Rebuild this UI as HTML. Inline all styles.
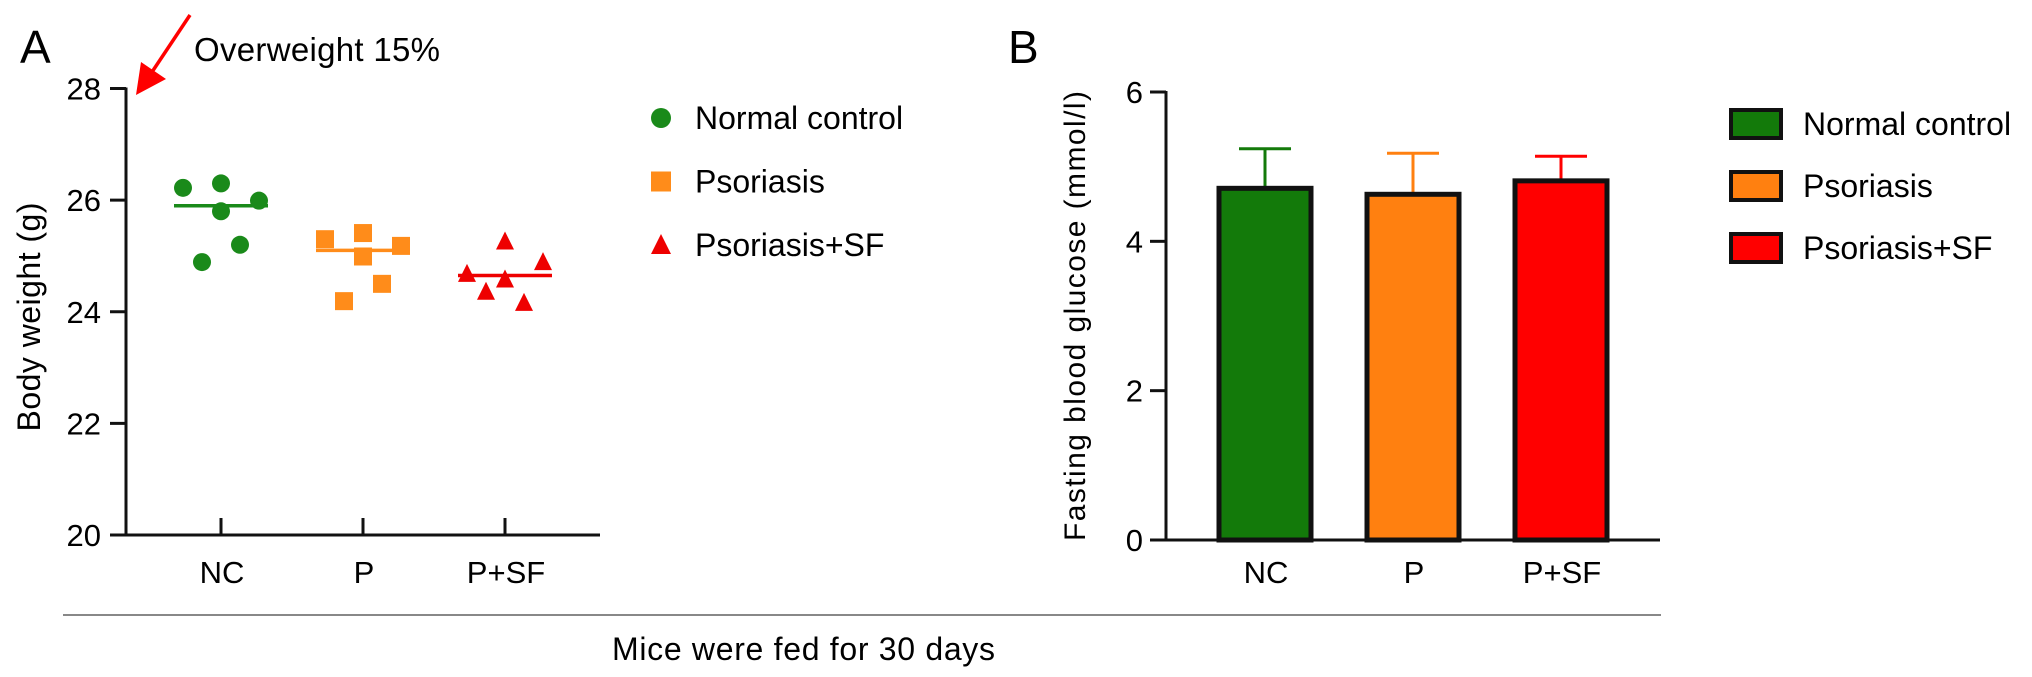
<!DOCTYPE html>
<html><head><meta charset="utf-8"><style>
body{margin:0;background:#fff;}
svg{display:block;font-family:"Liberation Sans",sans-serif;}
</style></head><body>
<svg id="fig" width="2032" height="677" viewBox="0 0 2032 677">
<text x="20" y="63" font-size="46">A</text>
<text x="194" y="61" font-size="33" textLength="246">Overweight 15%</text>
<g>
<line x1="190" y1="15" x2="152" y2="72" stroke="#f00" stroke-width="3.5"/>
<polygon points="136,95 141,62 166,79" fill="#f00"/>
</g>
<g id="pa"></g>
<g id="pb"></g>
<text x="1008" y="63" font-size="46">B</text>
<line x1="63" y1="615" x2="1661" y2="615" stroke="#888" stroke-width="2"/>
<text x="612" y="660" font-size="32" textLength="383">Mice were fed for 30 days</text>
</svg>
<script>
const NS="http://www.w3.org/2000/svg";
function mk(p,t,a,txt){const e=document.createElementNS(NS,t);for(const k in a)e.setAttribute(k,a[k]);if(txt!==undefined)e.textContent=txt;p.appendChild(e);return e;}

// Panel A data
const catsA=["NC","P","P+SF"];
const ncValues=[26.22,26.30,25.99,25.80,25.20,24.89];
const pValues=[25.30,25.41,25.18,24.99,24.50,24.19];
const psfValues=[24.68,25.26,24.89,24.58,24.16,24.36];
const jitter=[-2,0,2,0,1,-1];
const meansA=[25.9,25.1,24.65];
const ticksA=[20,22,24,26,28];
const legendA=["Normal control","Psoriasis","Psoriasis+SF"];
// Panel B data
const catsB=["NC","P","P+SF"];
const barValues=[4.71,4.63,4.81];
const errTops=[5.24,5.18,5.14];
const ticksB=[0,2,4,6];
const legendB=["Normal control","Psoriasis","Psoriasis+SF"];

const colA=["#1a8a1a","#ff8c1a","#ee0000"];
const colB=["#137a0a","#ff8010","#ff0000"];

// Panel A
const pa=document.getElementById('pa');
const yA=v=>535-(v-20)/8*446.5;
const xA=i=>221+i*142;
let e;
e=mk(pa,'line',{x1:126,y1:yA(28)-1,x2:126,y2:535,stroke:'#111','stroke-width':3});

e=mk(pa,'line',{x1:110,y1:535,x2:600,y2:535,stroke:'#111','stroke-width':3});

ticksA.forEach(t=>{
 e=mk(pa,'line',{x1:110,y1:yA(t),x2:126,y2:yA(t),stroke:'#111','stroke-width':3});
 
 e=mk(pa,'text',{x:101,y:yA(t)+11,'font-size':31,'text-anchor':'end'},String(t));
 
});
catsA.forEach((c,i)=>{
 e=mk(pa,'line',{x1:xA(i),y1:518,x2:xA(i),y2:535,stroke:'#111','stroke-width':3});
 
 e=mk(pa,'text',{x:xA(i)+1,y:583,'font-size':31,'text-anchor':'middle'},c);
 
});
e=mk(pa,'text',{transform:'translate(40,317) rotate(-90)','font-size':32,'text-anchor':'middle',textLength:229},'Body weight (g)');

function marker(g,kind,x,y,c,s){
 if(kind===0)return mk(g,'circle',{cx:x,cy:y,r:s,fill:c});
 if(kind===1)return mk(g,'rect',{x:x-s,y:y-s,width:2*s,height:2*s,fill:c});
 return mk(g,'polygon',{points:`${x},${y-s*1.1} ${x+s},${y+s*0.9} ${x-s},${y+s*0.9}`,fill:c});
}
[ncValues,pValues,psfValues].forEach((arr,g)=>{
 arr.forEach((v,j)=>{
  e=marker(pa,g,xA(g)+jitter[j]*19,yA(v),colA[g],9);
  
 });
 e=mk(pa,'line',{x1:xA(g)-47,x2:xA(g)+47,y1:yA(meansA[g]),y2:yA(meansA[g]),stroke:colA[g],'stroke-width':3.5});
 
});
legendA.forEach((l,i)=>{
 const y=118+i*63.5;
 e=marker(pa,i,661,y,colA[i],10);
 
 e=mk(pa,'text',{x:695,y:y+11,'font-size':32},l);
 
});

// Panel B
const pb=document.getElementById('pb');
const yB=v=>540-v/6*448;
const xB=i=>1265+i*148;
e=mk(pb,'line',{x1:1166,y1:yB(6)-1,x2:1166,y2:540,stroke:'#111','stroke-width':3});

e=mk(pb,'line',{x1:1150,y1:540,x2:1660,y2:540,stroke:'#111','stroke-width':3});

ticksB.forEach(t=>{
 e=mk(pb,'line',{x1:1150,y1:yB(t),x2:1166,y2:yB(t),stroke:'#111','stroke-width':3});
 
 e=mk(pb,'text',{x:1143,y:yB(t)+11,'font-size':31,'text-anchor':'end'},String(t));
 
});
e=mk(pb,'text',{transform:'translate(1085,316) rotate(-90)','font-size':30,'text-anchor':'middle',textLength:450},'Fasting blood glucose (mmol/l)');

catsB.forEach((c,i)=>{
 e=mk(pb,'line',{x1:xB(i),x2:xB(i),y1:yB(errTops[i]),y2:yB(barValues[i]),stroke:colB[i],'stroke-width':3});
 
 e=mk(pb,'line',{x1:xB(i)-26,x2:xB(i)+26,y1:yB(errTops[i]),y2:yB(errTops[i]),stroke:colB[i],'stroke-width':3});
 
 e=mk(pb,'rect',{x:xB(i)-46,y:yB(barValues[i]),width:92,height:540-yB(barValues[i]),fill:colB[i],stroke:'#111','stroke-width':5});
 
 e=mk(pb,'text',{x:xB(i)+1,y:583,'font-size':31,'text-anchor':'middle'},c);
 
});
legendB.forEach((l,i)=>{
 const y=124+i*62;
 e=mk(pb,'rect',{x:1731,y:y-14,width:50,height:28,fill:colB[i],stroke:'#111','stroke-width':4});
 
 e=mk(pb,'text',{x:1803,y:y+11,'font-size':32},l);
 
});
</script>
</body></html>
